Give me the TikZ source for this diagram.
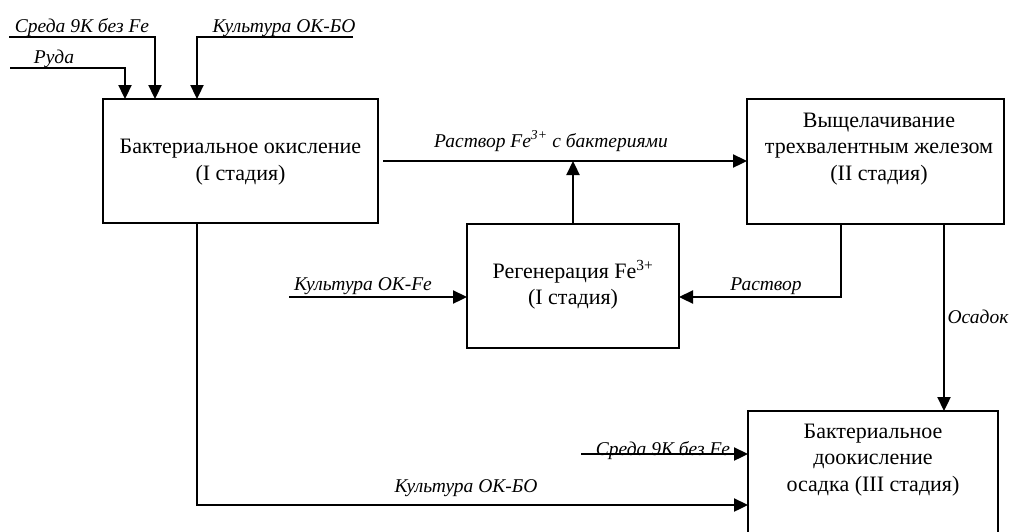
\documentclass[tikz,border=0pt]{standalone}
\usepackage{fontspec}
\setmainfont{Liberation Serif}
\usetikzlibrary{arrows.meta}
\begin{document}
\begin{tikzpicture}[x=1pt,y=-1pt,
  box/.style={draw, line width=2.8pt, inner sep=0pt, outer sep=0pt},
  conn/.style={line width=2.3pt},
  arr/.style={conn, -{Triangle[length=14pt,width=13pt]}},
  boxtext/.style={align=center, font=\fontsize{22}{26.5}\selectfont, inner sep=0pt},
  lbl/.style={anchor=base, inner sep=0pt, font=\fontsize{19.5}{23}\selectfont\itshape}]
\useasboundingbox (0,0) rectangle (1011,531);
\clip (0,0) rectangle (1011,531);
% boxes
\node[box, minimum width=275pt, minimum height=124pt] (A) at (240.5,161) {};
\node[boxtext] (At) at (240.5,162) {Бактериальное окисление\\(I стадия)};
\node[box, minimum width=257pt, minimum height=125pt] (B) at (875.5,161.5) {};
\node[boxtext] (Bt) at (879,149) {Выщелачивание\\трехвалентным железом\\(II стадия)};
\node[box, minimum width=212pt, minimum height=124pt] (C) at (573,286) {};
\node[boxtext] (Ct) at (573,285) {Регенерация Fe\textsuperscript{3+}\\(I стадия)};
\node[box, minimum width=250pt, minimum height=150pt] (D) at (873,486) {};
\node[boxtext] (Dt) at (873,460) {Бактериальное\\доокисление\\осадка (III стадия)};
% free ends
\coordinate (rudaS) at (10,68);
\coordinate (sredaS) at (9,37);
\coordinate (kultS) at (353,37);
\coordinate (kfS) at (289,297);
\coordinate (rsC) at (841,297);
\coordinate (osX) at (944,0);
\coordinate (kbS) at (197,505);
\coordinate (sbS) at (581,454);
% connectors
\draw[arr] (rudaS) -| ([xshift=22pt]A.north west);
\draw[arr] (sredaS) -| ([xshift=52pt]A.north west);
\draw[arr] (kultS) -| ([xshift=94pt]A.north west);
\draw[arr] ([xshift=5pt]A.east) -- (A.east -| B.west);
\draw[arr] (C.north) -- (C.north |- A.east);
\draw[arr] (kfS) -- (kfS -| C.west);
\draw[arr] (B.south -| rsC) |- (rsC -| C.east);
\draw[arr] (B.south -| osX) -- (D.north -| osX);
\draw[arr] (A.south -| kbS) |- (kbS -| D.west);
\draw[arr] (sbS) -- (sbS -| D.west);
% labels
\node[lbl] (l1) at (82,32) {Среда 9К без Fe};
\node[lbl] (l2) at (284,32) {Культура ОК-БО};
\node[lbl] (l3) at (54,63) {Руда};
\node[lbl] (l4) at (551,147) {Раствор Fe\textsuperscript{3+} с бактериями};
\node[lbl] (l5) at (363,290) {Культура ОК-Fe};
\node[lbl] (l6) at (766,290) {Раствор};
\node[lbl] (l7) at (978,323) {Осадок};
\node[lbl] (l8) at (663,455) {Среда 9К без Fe};
\node[lbl] (l9) at (466,492) {Культура ОК-БО};
\end{tikzpicture}
\end{document}
